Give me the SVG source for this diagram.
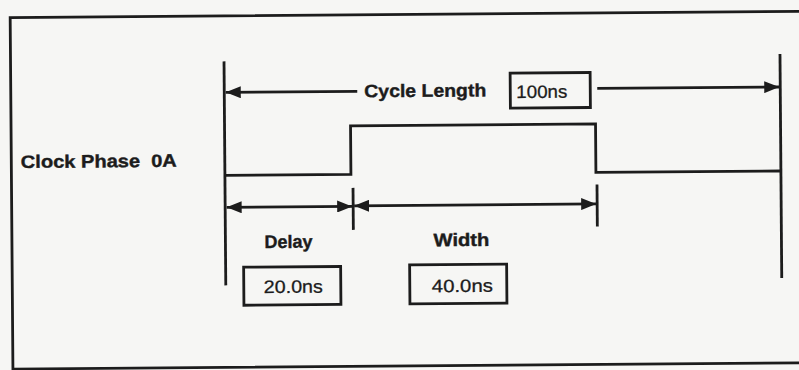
<svg xmlns="http://www.w3.org/2000/svg" width="799" height="370" viewBox="0 0 799 370">
  <style>
    .ln { stroke: #1c1c1c; stroke-width: 2.8; fill: none; stroke-linecap: butt; }
    .bx { stroke: #1c1c1c; stroke-width: 2.8; fill: none; }
    .lbl { font-family: "Liberation Sans", Arial, sans-serif; font-weight: bold; font-size: 18px; fill: #1c1c1c; stroke: #1c1c1c; stroke-width: 0.4; }
    .val { font-family: "Liberation Sans", Arial, sans-serif; font-size: 18px; fill: #1c1c1c; stroke: #1c1c1c; stroke-width: 0.3; }
  </style>
  <defs>
    <marker id="ah" markerUnits="userSpaceOnUse" markerWidth="16" markerHeight="12" refX="15" refY="6" orient="auto-start-reverse">
      <path d="M0,0 L15,6 L0,12 z" fill="#1c1c1c"/>
    </marker>
  </defs>
  <rect x="0" y="0" width="799" height="370" fill="#f6f6f4"/>
  <g transform="rotate(-0.45 400 185)">
    <g id="frame">
      <path class="ln" d="M805,14.5 H11.5 V366 H805" stroke-width="3"/>
    </g>
    <g id="signal-label">
      <text class="lbl" x="21" y="165" textLength="156" lengthAdjust="spacingAndGlyphs">Clock Phase&#160;&#160;0A</text>
    </g>
    <g id="waveform">
      <path class="ln" d="M225,174 H351 V125.5 H596 V174 H781"/>
    </g>
    <g id="connectors">
      <line class="ln" x1="225" y1="60" x2="225" y2="284"/>
      <line class="ln" x1="781" y1="57" x2="781" y2="281"/>
      <line class="ln" x1="358" y1="91" x2="226.5" y2="91" marker-end="url(#ah)"/>
      <line class="ln" x1="598" y1="90" x2="780" y2="90" marker-end="url(#ah)"/>
      <line class="ln" x1="226.5" y1="206" x2="352" y2="206" marker-start="url(#ah)" marker-end="url(#ah)"/>
      <line class="ln" x1="353" y1="187.5" x2="353" y2="229.5"/>
      <line class="ln" x1="354" y1="205.5" x2="596" y2="205.5" marker-start="url(#ah)" marker-end="url(#ah)"/>
      <line class="ln" x1="597" y1="186" x2="597" y2="228"/>
    </g>
    <g id="cycle-length">
      <text class="lbl" x="365" y="97" textLength="122" lengthAdjust="spacingAndGlyphs">Cycle Length</text>
      <rect class="bx" x="511" y="74" width="80" height="35"/>
      <text class="val" x="517" y="99" textLength="51" lengthAdjust="spacingAndGlyphs">100ns</text>
    </g>
    <g id="delay">
      <text class="lbl" x="264" y="247" textLength="48" lengthAdjust="spacingAndGlyphs">Delay</text>
      <rect class="bx" x="243" y="266" width="97" height="38"/>
      <text class="val" x="263" y="292" textLength="59" lengthAdjust="spacingAndGlyphs">20.0ns</text>
    </g>
    <g id="width">
      <text class="lbl" x="433" y="246.5" textLength="56" lengthAdjust="spacingAndGlyphs">Width</text>
      <rect class="bx" x="409" y="265" width="97" height="39"/>
      <text class="val" x="431" y="292.5" textLength="61" lengthAdjust="spacingAndGlyphs">40.0ns</text>
    </g>
  </g>
</svg>
